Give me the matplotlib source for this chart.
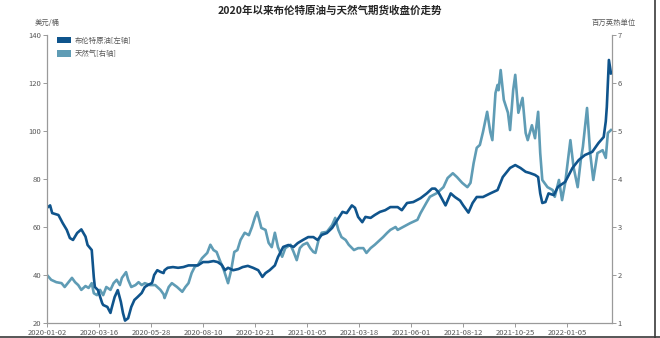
import matplotlib
matplotlib.use("Agg")
import matplotlib.pyplot as plt
from matplotlib.patches import Patch
from matplotlib.lines import Line2D

plt.rcParams["font.family"] = ["Noto Sans CJK SC", "DejaVu Sans"]

TITLE = "2020年以来布伦特原油与天然气期货收盘价走势"

# x axis is a category axis of trading days; one label every 50 sessions
TICK_IDX = [0, 50, 100, 150, 200, 250, 300, 350, 400, 450, 500]
TICK_LABELS = ["2020-01-02", "2020-03-16", "2020-05-28", "2020-08-10", "2020-10-21",
               "2021-01-05", "2021-03-18", "2021-06-01", "2021-08-12", "2021-10-25",
               "2022-01-05"]
N_DAYS = 543

# Brent, USD/bbl (left axis) at trading-day positions
BRENT_DAY = [0, 3, 5, 11, 15, 19, 22, 25, 29, 33, 37, 39, 43, 45, 46, 49, 53, 54, 58, 61,
             62, 65, 68, 71, 73, 75, 78, 81, 84, 87, 91, 94, 97, 101, 103, 106, 109, 112,
             113, 116, 121, 126, 131, 136, 140, 145, 150, 155, 160, 164, 168, 171, 174,
             179, 184, 188, 193, 198, 203, 207, 210, 214, 219, 222, 227, 232, 237, 241,
             246, 251, 256, 260, 264, 269, 274, 279, 284, 288, 293, 296, 299, 303, 306,
             311, 315, 320, 325, 330, 337, 341, 346, 352, 359, 365, 370, 373, 376, 383,
             388, 392, 397, 400, 405, 409, 413, 419, 426, 433, 438, 445, 450, 455, 460,
             464, 469, 472, 474, 476, 479, 482, 487, 491, 498, 505, 511, 517, 524, 530,
             535, 537, 538, 539, 540, 542]
BRENT = [68.0, 69.0, 65.8, 65.0, 61.7, 58.8, 55.4, 54.6, 57.5, 59.0, 56.0, 52.5, 50.4,
         39.0, 35.0, 33.7, 28.3, 27.5, 26.7, 24.2, 26.0, 30.8, 33.7, 28.8, 24.2, 21.0,
         22.0, 26.7, 29.6, 30.8, 32.5, 35.0, 35.8, 36.7, 40.0, 42.0, 41.3, 40.8, 42.0,
         43.0, 43.3, 43.0, 43.3, 44.0, 44.0, 44.0, 45.4, 45.4, 45.8, 45.4, 44.2, 42.0,
         43.0, 42.0, 42.5, 43.3, 43.8, 43.0, 42.0, 39.2, 40.8, 42.0, 44.0, 47.5, 51.7,
         52.5, 51.7, 53.3, 54.6, 55.8, 55.8, 54.6, 56.7, 57.5, 59.6, 62.9, 66.3, 65.8,
         69.0, 68.0, 64.2, 62.0, 64.2, 63.8, 65.0, 66.3, 67.0, 68.3, 68.3, 67.0, 70.0,
         70.4, 72.0, 74.0, 76.0, 76.0, 74.6, 69.0, 74.0, 72.5, 71.0, 69.0, 66.0, 70.0,
         72.5, 72.5, 74.0, 75.4, 80.8, 84.6, 85.8, 84.6, 83.0, 82.5, 81.7, 80.8, 74.0,
         70.0, 70.4, 74.0, 73.3, 76.7, 78.8, 84.6, 87.9, 90.0, 91.3, 95.0, 97.5, 104.0,
         110.0, 120.0, 129.6, 124.0]

# Henry Hub natural gas, USD/MMBtu (right axis)
GAS_DAY = [0, 4, 9, 14, 17, 20, 24, 27, 30, 33, 37, 40, 43, 45, 48, 51, 54, 57, 61, 64,
           67, 70, 72, 76, 78, 81, 85, 88, 91, 94, 99, 104, 109, 112, 113, 117, 120, 125,
           130, 133, 136, 139, 142, 145, 149, 154, 157, 160, 163, 166, 170, 173, 174, 177,
           180, 183, 186, 190, 194, 197, 200, 202, 204, 206, 210, 213, 216, 219, 222, 226,
           229, 234, 237, 240, 243, 246, 250, 253, 256, 258, 261, 264, 269, 274, 277, 280,
           283, 287, 290, 295, 299, 304, 307, 311, 315, 320, 323, 327, 330, 335, 337, 349,
           356, 359, 365, 368, 375, 381, 385, 388, 390, 394, 399, 404, 407, 410, 413, 416,
           419, 423, 426, 428, 431, 433, 434, 436, 439, 443, 445, 448, 450, 453, 457, 460,
           462, 466, 469, 472, 474, 476, 481, 486, 488, 492, 495, 498, 503, 506, 510, 513,
           515, 519, 522, 525, 529, 534, 537, 539, 542]
GAS = [2.00, 1.90, 1.85, 1.83, 1.75, 1.83, 1.94, 1.85, 1.79, 1.69, 1.77, 1.73, 1.83, 1.62,
       1.58, 1.69, 1.58, 1.75, 1.69, 1.83, 1.90, 1.79, 1.94, 2.06, 1.90, 1.75, 1.79, 1.85,
       1.79, 1.83, 1.79, 1.79, 1.69, 1.60, 1.52, 1.75, 1.83, 1.75, 1.65, 1.75, 1.83, 2.04,
       2.17, 2.21, 2.35, 2.46, 2.63, 2.52, 2.48, 2.31, 2.10, 1.90, 1.83, 2.10, 2.48, 2.52,
       2.73, 2.88, 2.83, 3.00, 3.21, 3.31, 3.15, 2.98, 2.94, 2.67, 2.58, 2.88, 2.58, 2.38,
       2.56, 2.63, 2.48, 2.31, 2.56, 2.63, 2.67, 2.56, 2.48, 2.46, 2.73, 2.88, 2.90, 3.04,
       3.19, 2.94, 2.79, 2.73, 2.63, 2.52, 2.56, 2.56, 2.46, 2.56, 2.63, 2.73, 2.79, 2.88,
       2.94, 3.00, 2.94, 3.08, 3.15, 3.29, 3.52, 3.63, 3.71, 3.83, 4.02, 4.08, 4.12, 4.04,
       3.92, 3.83, 3.92, 4.33, 4.65, 4.71, 4.98, 5.40, 4.98, 4.81, 5.79, 5.96, 5.85, 6.27,
       5.65, 5.38, 5.02, 5.85, 6.17, 5.38, 5.69, 4.96, 4.81, 5.12, 4.85, 5.40, 4.54, 3.98,
       3.83, 3.77, 3.63, 3.98, 3.56, 3.92, 4.81, 4.25, 3.83, 4.40, 4.67, 5.48, 4.54, 3.98,
       4.54, 4.60, 4.44, 4.96, 5.02]

DARK = "#0f548c"
LIGHT = "#5f9cb5"
AXIS = "#9a9a9a"
TEXT = "#595959"

fig = plt.figure(figsize=(6.6, 3.38), dpi=100)
ax = fig.add_axes([0.0712, 0.0444, 0.8561, 0.852])
ax2 = ax.twinx()

ax2.plot(GAS_DAY, GAS, color=LIGHT, lw=1.9, solid_joinstyle="round")
ax.plot(BRENT_DAY, BRENT, color=DARK, lw=1.9, solid_joinstyle="round")
ax.set_zorder(ax2.get_zorder() + 1)
ax.patch.set_visible(False)

ax.set_xlim(0, N_DAYS)
ax.set_ylim(20, 140)
ax.set_yticks(range(20, 141, 20))
ax2.set_ylim(1, 7)
ax2.set_yticks(range(1, 8))
ax.set_xticks(TICK_IDX)
ax.set_xticklabels(TICK_LABELS)

for a in (ax, ax2):
    a.spines["top"].set_visible(False)
    for sp in a.spines.values():
        sp.set_color(AXIS)
        sp.set_linewidth(0.9)
    a.tick_params(colors=AXIS, labelcolor=TEXT, labelsize=5.5, length=3, width=0.7, pad=1)
ax.spines["right"].set_visible(False)
ax2.spines["left"].set_visible(False)
ax2.spines["bottom"].set_visible(False)

fig.text(0.5, 0.968, TITLE, ha="center", va="center", fontsize=7.6,
         fontweight="bold", color="#262626")
fig.text(0.053, 0.932, "美元/桶", ha="left", va="center", fontsize=5.3, color=TEXT)
fig.text(0.897, 0.932, "百万英热单位", ha="left", va="center", fontsize=5.3, color=TEXT)

handles = [Patch(facecolor=DARK, edgecolor="none"), Patch(facecolor=LIGHT, edgecolor="none")]
leg = ax.legend(handles, ["布伦特原油[左轴]", "天然气[右轴]"], loc="upper left",
                bbox_to_anchor=(0.012, 1.005), frameon=False, fontsize=5.3,
                handlelength=2.0, handleheight=0.9, handletextpad=0.5, labelspacing=0.75,
                borderaxespad=0)
for t in leg.get_texts():
    t.set_color(TEXT)

# frame lines of the original screenshot
fig.add_artist(Line2D([0, 1], [0.004, 0.004], transform=fig.transFigure, color="#3a3a3a", lw=1.2))
fig.add_artist(Line2D([0.9925, 0.9925], [0, 1], transform=fig.transFigure, color="#3a3a3a", lw=1.2))

fig.savefig("out.png", dpi=100)
